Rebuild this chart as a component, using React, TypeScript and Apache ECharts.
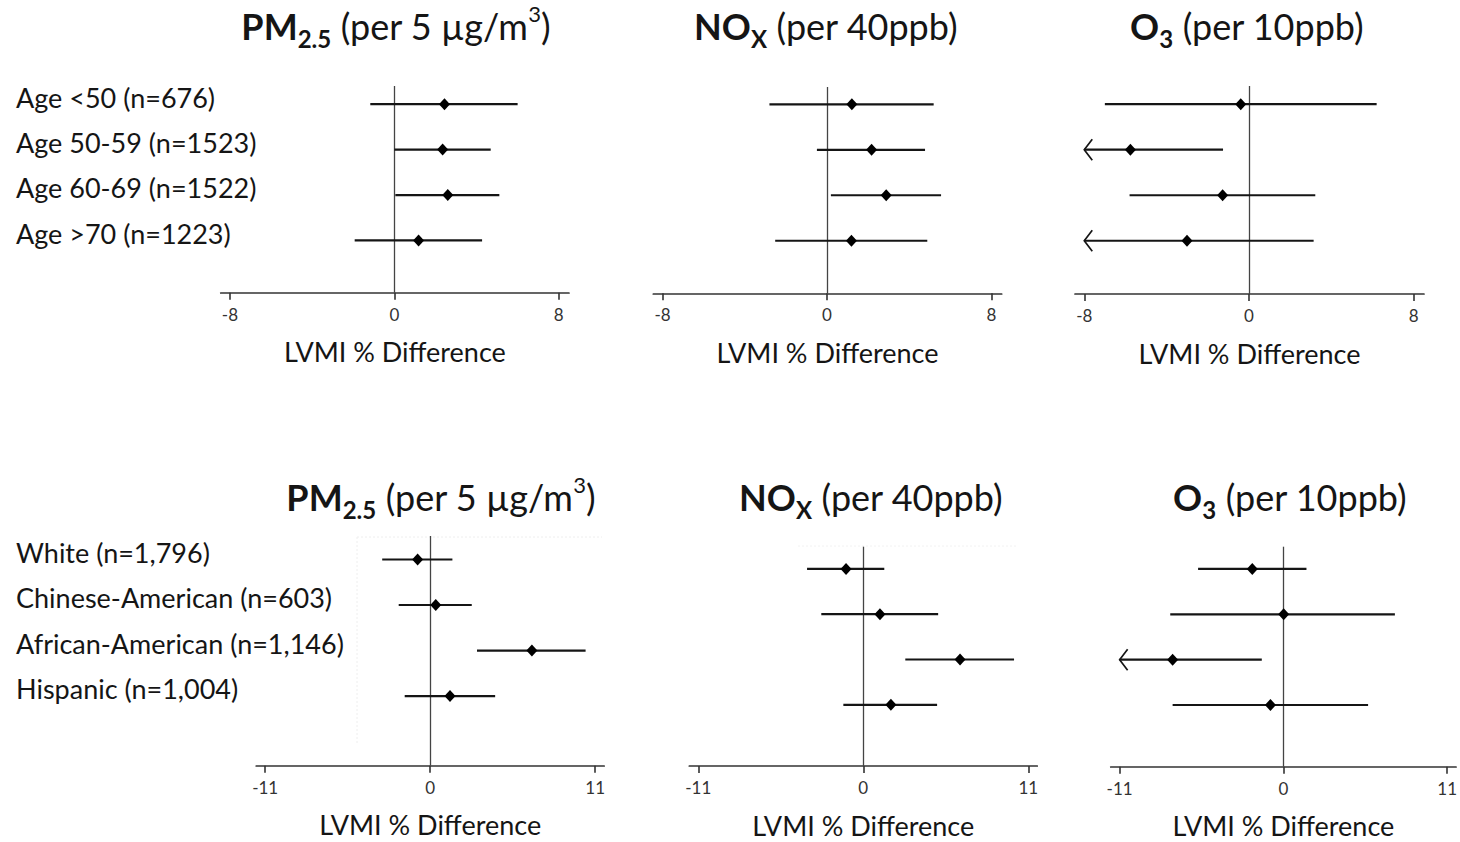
import React, { useEffect, useRef } from 'react';
import * as echarts from 'echarts';

// ---------- data ----------
const ageLabels = ['Age <50 (n=676)', 'Age 50-59 (n=1523)', 'Age 60-69 (n=1522)', 'Age >70 (n=1223)'];
const raceLabels = ['White (n=1,796)', 'Chinese-American (n=603)', 'African-American (n=1,146)', 'Hispanic (n=1,004)'];

const ageTicks = [-8, 0, 8];
const raceTicks = [-11, 0, 11];

const pm25AgeLow = [-1.17, 0.0, 0.05, -1.93];
const pm25AgeEst = [2.44, 2.35, 2.6, 1.18];
const pm25AgeHigh = [6.0, 4.69, 5.11, 4.27];

const noxAgeLow = [-2.8, -0.49, 0.19, -2.52];
const noxAgeEst = [1.21, 2.17, 2.88, 1.19];
const noxAgeHigh = [5.19, 4.77, 5.55, 4.88];

const o3AgeLow = [-7.0, -8.0, -5.8, -8.0];
const o3AgeEst = [-0.4, -5.76, -1.28, -3.01];
const o3AgeHigh = [6.2, -1.26, 3.22, 3.14];
const o3AgeTruncated = [false, true, false, true];

const pm25RaceLow = [-3.2, -2.1, 3.12, -1.7];
const pm25RaceEst = [-0.84, 0.37, 6.78, 1.32];
const pm25RaceHigh = [1.48, 2.77, 10.36, 4.33];

const noxRaceLow = [-3.75, -2.8, 2.8, -1.33];
const noxRaceEst = [-1.15, 1.11, 6.45, 1.84];
const noxRaceHigh = [1.4, 4.99, 10.05, 4.92];

const o3RaceLow = [-5.73, -7.6, -11.0, -7.44];
const o3RaceEst = [-2.09, 0.02, -7.44, -0.87];
const o3RaceHigh = [1.55, 7.49, -1.45, 5.69];
const o3RaceTruncated = [false, false, true, false];

const noTruncation = [false, false, false, false];

const pmTitle = '{b|PM}{bs|2.5}{r| (per 5 µg/m}{sup|3}{r|)}';
const noxTitle = '{b|NO}{bs|X}{r| (per 40ppb)}';
const o3Title = '{b|O}{bs|3}{r| (per 10ppb)}';
const axisName = 'LVMI % Difference';

// ---------- style ----------
const FONT = 'Lato, "Open Sans", sans-serif';
const INK = '#151515';
const LABEL_SHIFT = 0.155; // row labels sit slightly above their rows

const buildRows = (low: number[], est: number[], high: number[], trunc: boolean[]) =>
  low.map((l, i) => [i, l, est[i], high[i], trunc[i] ? 1 : 0]);

const panels = [
  { grid: { left: 220.7, top: 86, width: 348.3, height: 206.7 }, xr: [-8.45, 8.5], yr: [-0.4, 4.15], ticks: ageTicks, labels: ageLabels, showLabels: true, rows: buildRows(pm25AgeLow, pm25AgeEst, pm25AgeHigh, noTruncation), title: pmTitle, tx: 396, ty: 2 },
  { grid: { left: 653.3, top: 87, width: 348.4, height: 206.3 }, xr: [-8.45, 8.5], yr: [-0.38, 4.155], ticks: ageTicks, labels: ageLabels, showLabels: false, rows: buildRows(noxAgeLow, noxAgeEst, noxAgeHigh, noTruncation), title: noxTitle, tx: 826, ty: 2 },
  { grid: { left: 1075, top: 86, width: 349, height: 208 }, xr: [-8.45, 8.5], yr: [-0.4, 4.17], ticks: ageTicks, labels: ageLabels, showLabels: false, rows: buildRows(o3AgeLow, o3AgeEst, o3AgeHigh, o3AgeTruncated), title: o3Title, tx: 1247, ty: 2 },
  { grid: { left: 256.2, top: 536, width: 348, height: 229.7 }, xr: [-11.6, 11.6], yr: [-0.516, 4.53], ticks: raceTicks, labels: raceLabels, showLabels: true, rows: buildRows(pm25RaceLow, pm25RaceEst, pm25RaceHigh, noTruncation), title: pmTitle, tx: 441, ty: 473 },
  { grid: { left: 689.3, top: 546.7, width: 348, height: 219.3 }, xr: [-11.6, 11.6], yr: [-0.49, 4.35], ticks: raceTicks, labels: raceLabels, showLabels: false, rows: buildRows(noxRaceLow, noxRaceEst, noxRaceHigh, noTruncation), title: noxTitle, tx: 871, ty: 473 },
  { grid: { left: 1110.7, top: 546.7, width: 346.6, height: 220 }, xr: [-11.6, 11.6], yr: [-0.49, 4.36], ticks: raceTicks, labels: raceLabels, showLabels: false, rows: buildRows(o3RaceLow, o3RaceEst, o3RaceHigh, o3RaceTruncated), title: o3Title, tx: 1290, ty: 473 },
];

const titleRich = {
  b: { fontFamily: FONT, fontWeight: 'bold', fontSize: 36, lineHeight: 48, color: INK },
  bs: { fontFamily: FONT, fontWeight: 'bold', fontSize: 24, lineHeight: 24, verticalAlign: 'bottom', color: INK },
  r: { fontFamily: FONT, fontWeight: 'normal', fontSize: 36, lineHeight: 48, color: INK },
  sup: { fontFamily: FONT, fontWeight: 'normal', fontSize: 22, lineHeight: 22, verticalAlign: 'top', color: INK },
};

const renderItem = (_params: any, api: any) => {
  const row = api.value(0);
  const lo = api.coord([api.value(1), row]);
  const est = api.coord([api.value(2), row]);
  const hi = api.coord([api.value(3), row]);
  const truncated = api.value(4) === 1;
  const children: any[] = [
    { type: 'line', shape: { x1: lo[0], y1: lo[1], x2: hi[0], y2: hi[1] }, style: { stroke: INK, lineWidth: 2.2 } },
    {
      type: 'polygon',
      shape: { points: [[est[0], est[1] - 6], [est[0] + 5.5, est[1]], [est[0], est[1] + 6], [est[0] - 5.5, est[1]]] },
      style: { fill: '#000' },
    },
  ];
  if (truncated) {
    children.push({
      type: 'polyline',
      shape: { points: [[lo[0] + 8, lo[1] - 10.5], [lo[0], lo[1]], [lo[0] + 8, lo[1] + 10.5]] },
      style: { stroke: INK, lineWidth: 1.7, fill: 'none' },
    });
  }
  return { type: 'group', children };
};

export default function App() {
  const ref = useRef<HTMLDivElement>(null);
  useEffect(() => {
    if (!ref.current) return;
    const chart = echarts.init(ref.current, undefined, { renderer: 'svg' });
    const option: any = {
      animation: false,
      backgroundColor: '#ffffff',
      title: panels.map((p) => ({
        text: p.title,
        left: p.tx,
        top: p.ty,
        padding: 0,
        textAlign: 'center',
        textVerticalAlign: 'top',
        textStyle: { rich: titleRich, fontFamily: FONT, fontSize: 36, color: INK },
      })),
      grid: panels.map((p) => ({ ...p.grid, containLabel: false })),
      xAxis: panels.map((p, i) => ({
        type: 'value',
        gridIndex: i,
        min: p.xr[0],
        max: p.xr[1],
        splitLine: { show: false },
        axisLine: { show: true, onZero: false, lineStyle: { color: '#333', width: 1.7 } },
        axisTick: { show: true, customValues: p.ticks, length: 7, lineStyle: { color: '#333', width: 1.6 } },
        axisLabel: { customValues: p.ticks, formatter: (v: number) => String(v), fontFamily: FONT, fontSize: 17, color: '#333', margin: 13 },
        name: axisName,
        nameLocation: 'middle',
        nameGap: 59,
        nameTextStyle: { fontFamily: FONT, fontSize: 27, color: INK, verticalAlign: 'middle' },
      })),
      yAxis: panels.map((p, i) => ({
        type: 'value',
        gridIndex: i,
        inverse: true,
        min: p.yr[0],
        max: p.yr[1],
        splitLine: { show: false },
        axisLine: { show: false },
        axisTick: { show: false },
        axisLabel: {
          show: p.showLabels,
          customValues: p.labels.map((_, k) => k - LABEL_SHIFT),
          formatter: (v: number) => p.labels[Math.round(v + LABEL_SHIFT)] ?? '',
          align: 'left',
          margin: p.grid.left - 16,
          fontFamily: FONT,
          fontSize: 27,
          color: INK,
        },
      })),
      series: panels.map((p, i) => ({
        type: 'custom',
        xAxisIndex: i,
        yAxisIndex: i,
        renderItem,
        encode: { x: [1, 2, 3], y: 0 },
        data: p.rows,
        z: 3,
        markLine: {
          silent: true,
          symbol: 'none',
          label: { show: false },
          lineStyle: { color: '#444', width: 1.3, type: 'solid' },
          data: [{ xAxis: 0 }],
          z: 1,
        },
      })),
      graphic: [
        { type: 'line', shape: { x1: 357, y1: 537, x2: 357, y2: 743 }, style: { stroke: '#eeeeee', lineWidth: 1, lineDash: [2, 2] } },
        { type: 'line', shape: { x1: 357, y1: 537, x2: 602, y2: 537 }, style: { stroke: '#eeeeee', lineWidth: 1, lineDash: [2, 2] } },
        { type: 'line', shape: { x1: 798, y1: 546, x2: 1018, y2: 546 }, style: { stroke: '#f2f2f2', lineWidth: 1, lineDash: [2, 2] } },
      ],
    };
    chart.setOption(option);
    return () => chart.dispose();
  }, []);
  return <div ref={ref} style={{ position: 'fixed', left: 0, top: 0, width: 1460, height: 842, background: '#fff' }} />;
}
